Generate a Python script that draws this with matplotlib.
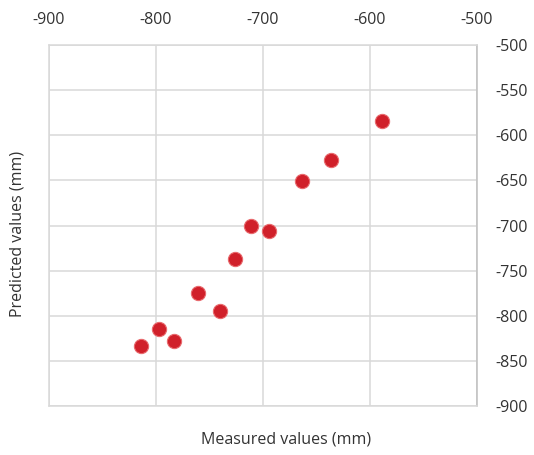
import matplotlib
matplotlib.use("Agg")
import matplotlib.pyplot as plt

measured = [-589, -636, -664, -711, -694, -726, -761, -740, -797, -783, -814]
predicted = [-584, -627, -651, -701, -706, -737, -775, -795, -815, -828, -834]
x_ticks = [-900, -800, -700, -600, -500]
y_ticks = [-500, -550, -600, -650, -700, -750, -800, -850, -900]
x_label = "Measured values (mm)"
y_label = "Predicted values (mm)"

plt.rcParams['font.family'] = ['Open Sans', 'DejaVu Sans']

W, H = 534, 455
fig = plt.figure(figsize=(W / 100, H / 100), dpi=100)
ax = fig.add_axes([49 / W, (H - 406) / H, (477 - 49) / W, (406 - 45) / H])

ax.scatter(measured, predicted, s=105, color='#D0202A', edgecolor='#E86A6E',
           linewidth=0.8, zorder=3)

ax.set_xlim(-900, -500)
ax.set_ylim(-900, -500)
ax.set_xticks(x_ticks)
ax.set_yticks(y_ticks)
ax.set_xticklabels([str(v) for v in x_ticks])
ax.set_yticklabels([str(v) for v in y_ticks])
ax.xaxis.tick_top()
ax.yaxis.tick_right()
ax.tick_params(axis='both', length=0, labelsize=11.5, colors='#333333')
ax.tick_params(axis='x', pad=12.5)
ax.tick_params(axis='y', pad=13.5)

ax.grid(True, color='#D9D9D9', linewidth=1.1, zorder=0)
ax.set_axisbelow(True)
for side in ['top', 'left', 'bottom']:
    ax.spines[side].set_color('#D9D9D9')
    ax.spines[side].set_linewidth(1.1)
ax.spines['right'].set_color('#BFBFBF')
ax.spines['right'].set_linewidth(1.1)

fig.text(286 / W, 1 - 439 / H, x_label, ha='center', va='center',
         fontsize=11.5, color='#333333')
fig.text(18 / W, 1 - 234 / H, y_label, ha='center', va='center',
         rotation=90, fontsize=11.5, color='#333333')

fig.savefig("out.png", dpi=100)
